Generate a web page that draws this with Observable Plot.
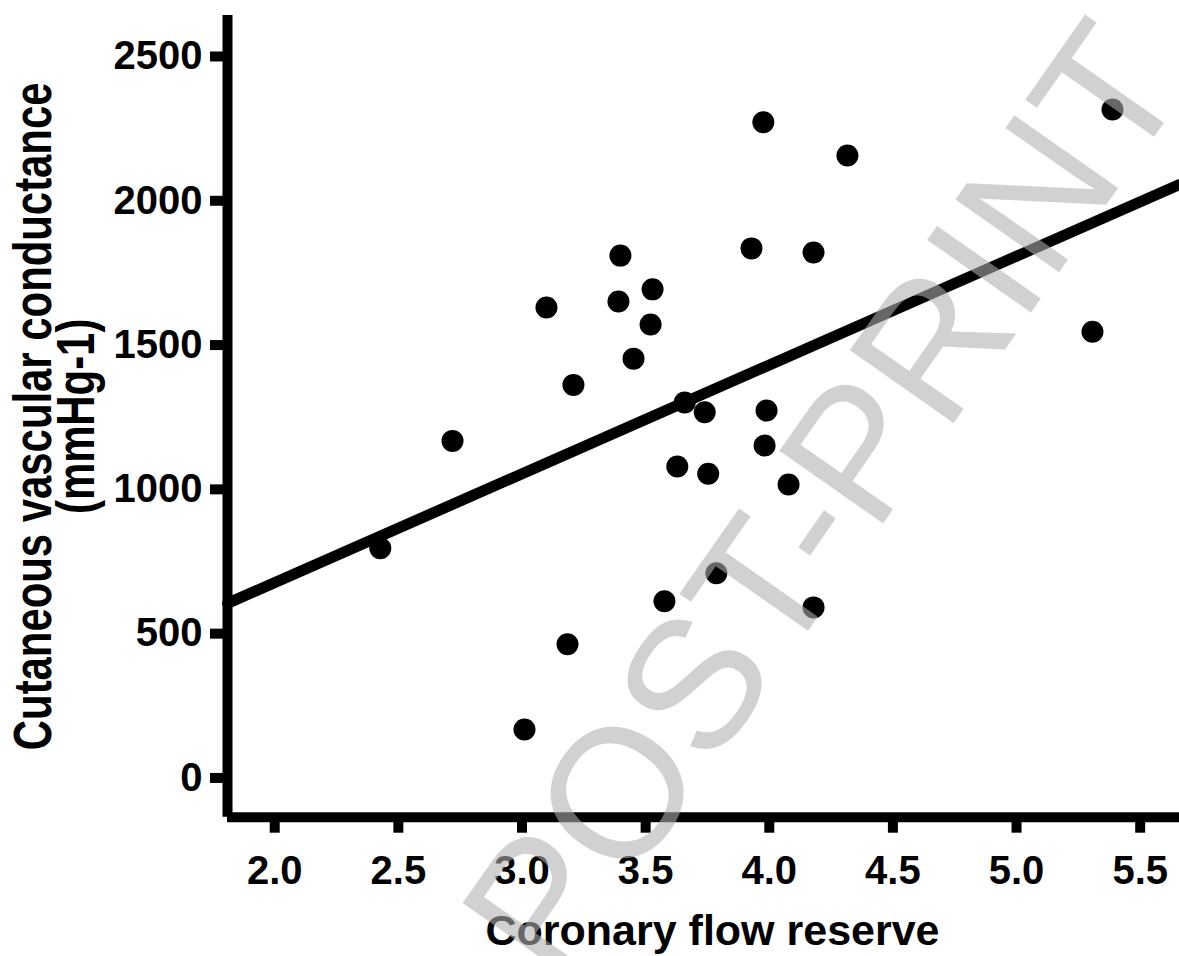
<!DOCTYPE html>
<html><head><meta charset="utf-8">
<script src="https://cdn.jsdelivr.net/npm/d3@7"></script>
<script src="https://cdn.jsdelivr.net/npm/@observablehq/plot@0.6"></script>
<style>html,body{margin:0;padding:0;background:#fff;} svg{display:block}</style>
</head><body><div id="chart"></div>
<script>
// Coronary flow reserve (x) and cutaneous vascular conductance (y)
const cfr = [2.427, 2.719, 3.010, 3.099, 3.184, 3.208, 3.390, 3.398, 3.451, 3.520, 3.528, 3.576, 3.628, 3.658, 3.739, 3.753, 3.786, 3.928, 3.976, 3.981, 3.989, 4.078, 4.179, 4.179, 4.316, 5.307, 5.388];
const cvc = [796, 1168, 168, 1630, 463, 1362, 1651, 1810, 1453, 1571, 1693, 612, 1079, 1301, 1267, 1054, 709, 1835, 2272, 1152, 1273, 1017, 1821, 591, 2157, 1546, 2316];
const xTicks = [2.0, 2.5, 3.0, 3.5, 4.0, 4.5, 5.0, 5.5];
const yTicks = [0, 500, 1000, 1500, 2000, 2500];
const fitIntercept = -77;
const fitSlope = 377;
const xTitle = "Coronary flow reserve";
const yTitle = "Cutaneous vascular conductance\n(mmHg-1)";
const watermark = "POST-PRINT";
const xDomain = [1.809, 5.659];
const yDomain = [-136, 2642];

const points = cfr.map((x, i) => ({x, y: cvc[i]}));
const fitLine = xDomain.map(x => ({x, y: fitIntercept + fitSlope * x}));

const font = "'Liberation Sans', Arial, Helvetica, sans-serif";
const chart = Plot.plot({
  width: 1179, height: 956,
  marginLeft: 227, marginRight: 0, marginTop: 15, marginBottom: 139.3,
  style: {fontFamily: font, fontWeight: "bold", background: "#fff", color: "#000"},
  x: {domain: xDomain},
  y: {domain: yDomain},
  marks: [
    Plot.ruleX([xDomain[0]], {stroke: "#000", strokeWidth: 10}),
    Plot.ruleY([yDomain[0]], {stroke: "#000", strokeWidth: 10}),
    Plot.axisX({ticks: xTicks, tickFormat: d3.format(".1f"), tickSize: 16, tickPadding: 22, strokeWidth: 10, fontSize: 40, fontWeight: "bold", label: null}),
    Plot.axisY({ticks: yTicks, tickFormat: d3.format("d"), tickSize: 17, tickPadding: 8, strokeWidth: 10, fontSize: 40, fontWeight: "bold", label: null}),
    Plot.line(fitLine, {x: "x", y: "y", stroke: "#000", strokeWidth: 11}),
    Plot.dot(points, {x: "x", y: "y", r: 11, fill: "#000", stroke: null}),
    Plot.text([xTitle], {frameAnchor: "bottom", dx: 9, dy: 128, lineAnchor: "bottom", fontSize: 43, fontWeight: "bold", fill: "#000"}),
    Plot.text([yTitle], {frameAnchor: "left", dx: -134, rotate: -90, textAnchor: "middle", lineAnchor: "bottom", lineHeight: 0.81, fontSize: 53, fontWeight: "bold", fill: "#000"}),
    Plot.text([watermark], {frameAnchor: "middle", dx: 171, dy: 119.5, rotate: -55, textAnchor: "middle", lineAnchor: "bottom", fontSize: 184, fontWeight: "normal", fill: "rgb(175,175,175)", fillOpacity: 0.58})
  ]
});
chart.querySelectorAll("text").forEach(t => {
  if (t.textContent.includes("Cutaneous")) {
    const tr = t.getAttribute("transform") || "";
    t.setAttribute("transform", tr + " scale(0.79,1)");
  }
});
document.getElementById("chart").appendChild(chart);
</script>
</body></html>
